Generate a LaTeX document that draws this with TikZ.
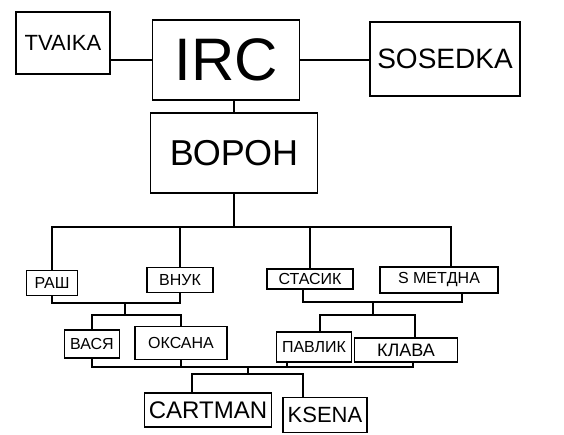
\documentclass[tikz,border=0pt]{standalone}
\usepackage{fontspec}
\setmainfont{Liberation Sans}
\usetikzlibrary{positioning}

\begin{document}
\begin{tikzpicture}[
    x=1pt, y=-1pt,
    box/.style={rectangle, draw=black, line width=1.6pt, inner sep=0pt, align=center},
    kid/.style={box, font=\fontsize{16}{16}\selectfont},
    link/.style={line width=1.6pt}
]
\useasboundingbox (0,0) rectangle (564,435);

\node[box, minimum width=94pt, minimum height=62pt, font=\fontsize{22}{22}\selectfont] (tvaika) at (63,43) {TVAIKA};
\node[box, minimum width=147pt, minimum height=80pt, font=\fontsize{60}{60}\selectfont] (irc) at (226,60) {IRC};
\node[box, minimum width=150pt, minimum height=74pt, font=\fontsize{28}{28}\selectfont] (sosedka) at (445,59) {SOSEDKA};
\node[box, minimum width=167pt, minimum height=80pt, font=\fontsize{36}{36}\selectfont] (voron) at (234,153) {ВОРОН};

\node[kid, minimum width=51pt, minimum height=25pt] (rash) at (52,283) {РАШ};
\node[kid, minimum width=66pt, minimum height=25pt] (vnuk) at (180,280) {ВНУК};
\node[kid, minimum width=86pt, minimum height=20pt] (stasik) at (310,279) {СТАСИК};
\node[kid, minimum width=118pt, minimum height=26pt] (smetana) at (439,280) {S METДНА};

\node[kid, minimum width=55pt, minimum height=28pt] (vasya) at (92,344) {ВАСЯ};
\node[kid, minimum width=92pt, minimum height=33pt] (oksana) at (181,343) {ОКСАНА};
\node[kid, minimum width=75pt, minimum height=30pt] (pavlik) at (314,347) {ПАВЛИК};
\node[kid, minimum width=103pt, minimum height=24pt, font=\fontsize{18}{18}\selectfont] (klava) at (406,350) {КЛАВА};

\node[box, minimum width=127pt, minimum height=34pt, font=\fontsize{24}{24}\selectfont] (cartman) at (208,410) {CARTMAN};
\node[box, minimum width=84pt, minimum height=35pt, font=\fontsize{22}{22}\selectfont] (ksena) at (325,415) {KSENA};

% top row
\draw[link] (irc.west) -- (irc.west -| tvaika.east);
\draw[link] (irc.east) -- (irc.east -| sosedka.west);
\draw[link] (irc.south -| voron.north) -- (voron.north);

% children of voron
\coordinate (famR) at (451,227);
\draw[link] (voron.south) -- (voron.south |- famR);
\draw[link] (rash.north) |- (famR) -- (famR |- smetana.north);
\draw[link] (vnuk.north) -- (vnuk.north |- famR);
\draw[link] (stasik.north) -- (stasik.north |- famR);

% left family
\coordinate (kidsL) at (125,303);
\coordinate (kidsL2) at (125,315);
\draw[link] (rash.south) |- (kidsL) -| (vnuk.south);
\draw[link] (kidsL) -- (kidsL2);
\draw[link] (vasya.north) |- (kidsL2) -| (oksana.north);

% right family
\coordinate (kidsR) at (373,302);
\coordinate (kidsR2) at (373,315);
\draw[link] ([xshift=-7pt]stasik.south) |- (kidsR) -| ([xshift=23pt]smetana.south);
\draw[link] (kidsR) -- (kidsR2);
\draw[link] ([xshift=6pt]pavlik.north) |- (kidsR2) -| ([xshift=9pt]klava.north);

% grandchildren
\coordinate (gk) at (248,367);
\coordinate (gk2) at (248,374);
\draw[link] (vasya.south) |- (gk) -| ([xshift=7pt]klava.south);
\draw[link] (oksana.south) -- (oksana.south |- gk);
\draw[link] ([xshift=-27pt]pavlik.south) -- ([xshift=-27pt]pavlik.south |- gk);
\draw[link] (gk) -- (gk2);
\draw[link] ([xshift=-16pt]cartman.north) |- (gk2) -| ([xshift=-22pt]ksena.north);
\end{tikzpicture}
\end{document}
